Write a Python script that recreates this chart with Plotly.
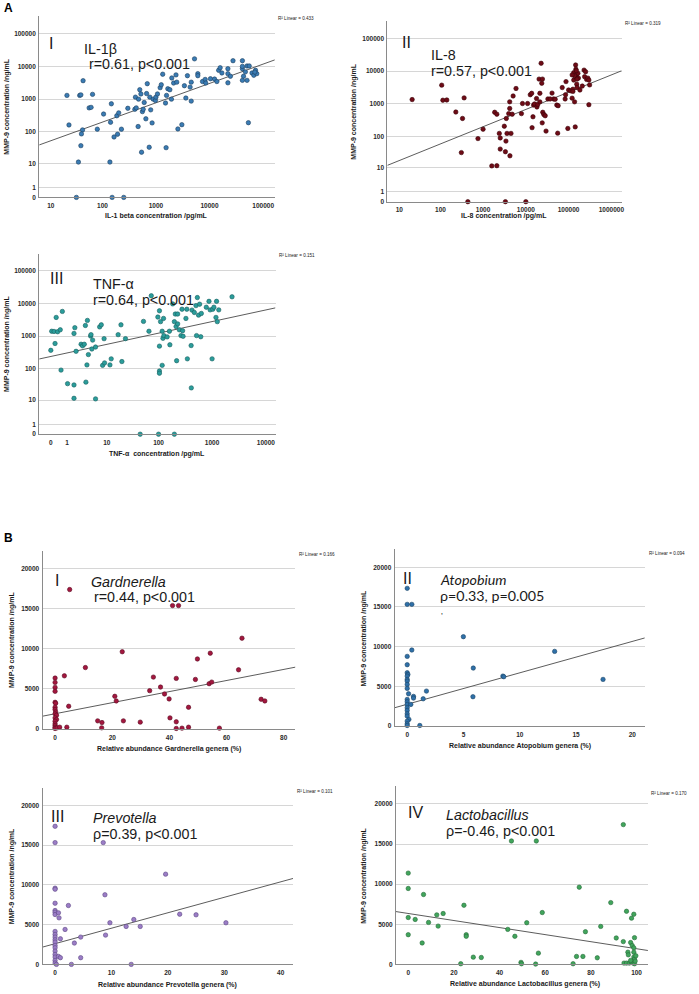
import plotly.graph_objects as go

W, H = 699, 994

# ---------------- Panel A data (raw values) ----------------
il1b_x = [21,23,43,37,39,65,56,61,42,40,39,35,80,105,147,142,165,192,186,202,227,299,138,32,152,251,405,430,466,415,500,525,475,560,580,605,540,650,670,690,770,800,750,850,890,980,1000,1070,1200,1260,1340,1510,1550,1580,1670,1820,1950,1980,2140,2370,2450,2570,3050,3400,3870,3620,4350,4560,4560,5250,6050,6050,7400,8300,8500,10400,12400,13700,14800,15800,17000,22000,22000,22000,24500,27400,41000,41000,41000,46600,50000,50000,53000,55000,62000,67000,72000,76000,70000,43000,41000]
il1b_mmp9 = [1300,162,3660,1300,1350,1400,540,560,114,86,37,11,120,350,720,196,69,84,310,380,120,525,11,0,0,0,490,540,145,1150,1940,1440,1000,415,490,790,23,250,1480,2960,1150,470,33,187,1000,910,1150,1440,2240,2750,5770,760,32,1300,2080,1940,1000,4430,3100,5500,3300,122,165,2570,5200,1080,2330,3300,870,17000,6000,5200,3450,4000,3100,4200,4100,3450,7600,9100,6300,3150,8500,6000,5000,14900,14900,8500,3750,6800,10300,3750,190,10300,6300,5350,7600,6000,6700,5000,10000]

il8_x = [21,107,114,141,230,330,360,310,760,1000,
         1870,2100,1600,2100,2400,2520,2520,3140,3330,3500,
         3430,3630,3980,4200,4200,4500,4250,4800,5050,5900,
         7900,8350,11000,12700,13700,14000,14700,15200,16000,17800,
         18200,19000,20400,21300,21300,22800,23600,24500,24900,24200,
         26300,28400,29700,32800,41000,44700,48600,53000,55600,57000,
         71000,83000,85000,87000,96000,100000,112000,121000,126000,126000,
         132000,132000,138000,143000,146000,148000,154000,155000,158000,165000,
         170000,184000,209000,230000,237000,250000,264000,282000,298000,310000,
         298000,138000,121000,440,3330,10000,152000,37000,158000]
il8_mmp9 = [1350,3730,1290,1310,560,355,1520,31,85,166,
            550,480,11.5,11.7,123,89,40,205,33,355,
            71,123,500,720,1150,123,24.5,480,1740,2950,
            500,1020,1020,1900,2100,185,400,915,990,1450,
            800,950,5730,2100,1150,17500,4270,5730,550,260,
            470,430,145,1410,2130,1410,1380,915,125,875,
            3150,1410,1900,4800,175,2650,2500,1490,2800,2400,
            5350,9000,1150,195,15500,11500,6800,4000,3150,8600,
            6150,2650,3500,10800,6800,9600,5600,6150,5350,3800,
            940,7300,7700,0,0,0,10400,1410,5730]

tnf_x = [0.04,0.15,0,0.2,0.26,0.34,0.5,0.64,0.55,1.7,
         1.8,1.95,2.66,2.9,3.2,3.4,3.8,3.7,4.0,4.5,
         4.6,4.8,5.0,5.8,7.1,7.7,8.2,9,8.8,11.6,
         12.3,16.9,19.2,20,23.5,52,66,73,97,104,
         109,104,104,104,117,117,121,126,124,145,
         160,163,184,198,206,213,218,228,228,245,
         263,275,282,288,338,325,346,407,410,422,
         467,501,531,513,560,585,615,630,780,875,
         920,1000,1030,1080,1180,1210,1250,1330,2350,
         45,100,198, 1.05,1.7,1.7,3.5,5.8]
tnf_mmp9 = [1400,1380,365,590,3700,1350,1550,5650,90,1200,
            1800,340,560,500,560,2100,3000,130,270,1000,
            1100,400,750,460,1900,2200,126,150,830,130,
            200,1100,2200,165,830,2800,1400,17000,3800,5900,
            2750,490,84,72,126,1400,850,1030,3450,940,
            1400,540,9600,2750,4700,1950,175,4700,2350,1550,
            1030,6600,1450,980,6600,3450,200,510,25,6200,
            5250,8500,15000,1030,4350,9400,950,4900,7600,11500,
            6300,200,6600,7600,3700,11500,2750,6300,15800,
            0,0,0, 34,31,11.5,38,11]

# ---------------- Panel B data (raw values) ----------------
gard_x = [5.1,41.1,43.2,23.5,10.6,65.4,49.8,54.3,0,0,
          0,0,3.25,4.76,0,0.2,0,0,0.2,0,
          0.5,0,0.5,0,0,0,0,0,0.7,1.6,
          4.1,20.9,21.4,14.9,16.4,16.3,23.9,29.8,33.1,34.4,
          36.9,38.3,39.9,40.2,42.4,42.4,42.4,44.4,46.7,46.7,
          49.1,53.9,54.8,57.5,64.2,72.1,73.4]
gard_mmp9 = [17350,15350,15350,9600,7630,11290,8700,9420,6320,5780,
             5160,4670,6600,2810,3300,3180,2680,2400,2100,1860,
             1690,1360,1160,950,620,410,200,40,120,200,
             200,4050,3470,990,780,120,990,830,4750,6440,
             5200,4340,3720,1360,6280,870,40,80,2680,200,
             6150,5620,5820,80,7350,3680,3470]

atop_x = [0,0,0.41,4.99,5.87,13.1,0.41,
          0,0,0,0.06,0,0,0,0,0,0.12,
          0,0,0,0.32,0,0,0,0,0.15,0,
          0,0,1.12,0.56,0.56,1.42,1.71,5.84,8.5,8.58,17.4]
atop_mmp9 = [17350,15330,15330,11260,7310,9410,9580,
             8780,7730,6720,6510,6300,5880,5670,5250,4750,4070,
             3360,3070,2730,2730,2310,1970,1550,1260,840,630,
             290,80,80,3740,3530,3440,4410,3700,6300,6220,5880]

prev_x = [0,0,8.54,19.6,0,0,8.84,
          0,0,0,0,0.6,2.36,0.7,0,0,0,
          0,0,0,0,0,0,0,0,0,0.24,
          0.6,0.94,0.94,1.77,3.42,4.54,4.54,2.89,8.95,9.72,
          12.6,13.96,15.1,13.5,22.1,25.0,30.3]
prev_mmp9 = [17360,15310,15310,11340,9580,9450,8750,
             7690,6770,6560,6270,6480,7400,5850,4140,3760,3430,
             3090,2800,2380,2090,1670,1250,920,500,170,0,
             1000,840,3220,4390,2680,3430,840,0,3680,5230,
             4770,5640,4770,0,6310,6230,5230]

lact_x = [94.2,45.2,56.1,0,0,6.7,74.9,
          88.7,0,3.05,8.9,12.5,15.3,13.1,0,6.1,24.4,
          25.4,25.4,28.5,32.0,23.0,43.6,46.7,49.4,49.6,51.9,
          55.8,57.0,58.7,72.2,73.7,76.5,77.6,82.8,84.3,91.1,
          94.2,95.6,97.8,98.8,99.1,97.4,98.1,98.8,96.2,96.4,
          98.8,98.8,99.1,94.5,95.6,96.8,97.7,98.5,99.1,99.4,
          97.4,99.7]
lact_mmp9 = [17420,15380,15380,11375,9460,8710,9620,
             7700,5840,5600,5230,6170,6340,4770,3700,2670,7370,
             3700,3500,900,860,80,4360,3500,250,80,5190,
             40,1400,6460,80,990,990,4070,820,4730,3290,
             2840,6620,5760,6250,3330,2720,2350,2060,1520,1190,
             1520,910,660,160,160,160,290,160,80,410,
             490,1070]

# linear fit lines (end points, raw units)
fit_il1b = ([5.7, 164800], [39, 15800])
fit_il8 = ([4.8, 1740000], [12, 10300])
fit_tnf = ([-0.39, 15100], [198, 7260])
fit_gard = ([-4.4, 84.1], [1570, 7680])
fit_atop = ([-1.12, 21.1], [2310, 11100])
fit_prev = ([-2.23, 42.2], [2170, 10800])
fit_lact = ([-5.36, 105], [6580, 1730])

# tick labels
log_y_ticks = [0, 1, 10, 100, 1000, 10000, 100000]
il1b_ticks = [10, 100, 1000, 10000, 100000]
il8_ticks = [10, 100, 1000, 10000, 100000, 1000000]
tnf_ticks = [0, 1, 10, 100, 1000, 10000]
lin_y_ticks = [0, 5000, 10000, 15000, 20000]
gard_ticks = [0, 20, 40, 60, 80]
atop_ticks = [0, 5, 10, 15, 20]
prev_ticks = [0, 10, 20, 30, 40]
lact_ticks = [0, 20, 40, 60, 80, 100]

FONT = "Liberation Sans"
TICKFONT = dict(family=FONT, size=6.5, color="#2a2a2a", weight="bold")
AXCOL = "#8a8a8a"
GRIDCOL = "#d6d6d6"


def fx(p):
    return p / W


def fy(p):
    return 1 - p / H


panels = [
    dict(x=il1b_x, y=il1b_mmp9, fit=fit_il1b, log=True, col="#3a7bb3", edge="#1c3f60",
         box=(39.3, 276, 16, 198), xr=[0.824, 5.217], yr=[0, 5.54],
         xt=il1b_ticks, yt=log_y_ticks),
    dict(x=il8_x, y=il8_mmp9, fit=fit_il8, log=True, col="#6e0b16", edge="#3a0409",
         box=(389, 624.3, 20.7, 202.3), xr=[0.762, 6.24], yr=[0, 5.55],
         xt=il8_ticks, yt=log_y_ticks),
    dict(x=tnf_x, y=tnf_mmp9, fit=fit_tnf, log=True, col="#2b9d9b", edge="#17605f",
         box=(39.3, 276.7, 255, 435.5), xr=[-0.217, 4.18], yr=[0, 5.50],
         xt=tnf_ticks, yt=log_y_ticks),
    dict(x=gard_x, y=gard_mmp9, fit=fit_gard, log=False, col="#a3173f", edge="#5a0c22",
         box=(42.7, 296.7, 553, 731), xr=[-4.4, 84.1], yr=[0, 22110],
         xt=gard_ticks, yt=lin_y_ticks),
    dict(x=atop_x, y=atop_mmp9, fit=fit_atop, log=False, col="#2f70a8", edge="#1b4466",
         box=(396.3, 647.7, 551, 728.3), xr=[-1.12, 21.12], yr=[0, 22260],
         xt=atop_ticks, yt=lin_y_ticks),
    dict(x=prev_x, y=prev_mmp9, fit=fit_prev, log=False, col="#9b7dc6", edge="#5e4884",
         box=(42.7, 294.3, 790, 967.3), xr=[-2.23, 42.2], yr=[0, 22220],
         xt=prev_ticks, yt=lin_y_ticks),
    dict(x=lact_x, y=lact_mmp9, fit=fit_lact, log=False, col="#41a55c", edge="#276a39",
         box=(397.7, 650.7, 788.3, 967.3), xr=[-5.36, 104.97], yr=[0, 22240],
         xt=lact_ticks, yt=lin_y_ticks),
]

fig = go.Figure()
layout = dict(width=W, height=H, margin=dict(l=0, r=0, t=0, b=0),
              paper_bgcolor="white", plot_bgcolor="white", showlegend=False)

for i, p in enumerate(panels):
    n = "" if i == 0 else str(i + 1)
    xa, ya = "x" + n, "y" + n
    off = 1 if p["log"] else 0
    xs = [v + off for v in p["x"]]
    ys = [v + off for v in p["y"]]
    fxs = [v + off for v in p["fit"][0]]
    fys = [v + off for v in p["fit"][1]]
    fig.add_trace(go.Scatter(x=fxs, y=fys, mode="lines", xaxis=xa, yaxis=ya,
                             line=dict(color="#4a4a4a", width=0.9), hoverinfo="skip"))
    fig.add_trace(go.Scatter(x=xs, y=ys, mode="markers", xaxis=xa, yaxis=ya, cliponaxis=False,
                             marker=dict(size=4.4, color=p["col"], line=dict(color=p["edge"], width=0.6))))
    l, r, t, b = p["box"]
    typ = "log" if p["log"] else "linear"
    layout["xaxis" + n] = dict(domain=[fx(l), fx(r)], range=p["xr"], type=typ, anchor=ya,
                               showgrid=False, zeroline=False, showline=True, linecolor=AXCOL,
                               linewidth=1, ticks="", tickvals=[v + off for v in p["xt"]],
                               ticktext=[str(v) for v in p["xt"]], tickfont=TICKFONT,
                               ticklabelstandoff=2)
    layout["yaxis" + n] = dict(domain=[fy(b), fy(t)], range=p["yr"], type=typ, anchor=xa,
                               showgrid=True, gridcolor=GRIDCOL, gridwidth=1, zeroline=False,
                               showline=True, linecolor=AXCOL, linewidth=1, ticks="",
                               tickvals=[v + off for v in p["yt"]],
                               ticktext=[str(v) for v in p["yt"]], tickfont=TICKFONT,
                               ticklabelstandoff=1)

ann = []


def txt(x, y, s, size, anchor="left", italic=False, bold=False, family=FONT, angle=0, color="#1a1a1a"):
    ann.append(dict(x=fx(x), y=fy(y), xref="paper", yref="paper", text=s, showarrow=False,
                    xanchor=anchor, yanchor="middle", textangle=angle,
                    font=dict(family=family, size=size, color=color,
                              style="italic" if italic else "normal",
                              weight="bold" if bold else "normal")))


# panel letters
txt(2, 8, "A", 12, bold=True, color="#000")
txt(2, 540, "B", 12, bold=True, color="#000")

ytitle = "MMP-9 concentration /ng/mL"
# axis titles
txt(157, 216.5, "IL-1 beta concentration /pg/mL", 7, anchor="center", bold=True)
txt(506, 217, "IL-8 concentration /pg/mL", 7, anchor="center", bold=True)
txt(158, 455, "TNF-\u03b1  concentration /pg/mL", 7, anchor="center", bold=True)
txt(170, 751.7, "Relative abundance Gardnerella genera (%)", 7, anchor="center", bold=True)
txt(522, 748.3, "Relative abundance Atopobium genera (%)", 7, anchor="center", bold=True)
txt(168, 988.3, "Relative abundance Prevotella genera (%)", 7, anchor="center", bold=True)
txt(527, 987.3, "Relative abundance Lactobacillus genera (%)", 7, anchor="center", bold=True)
for (xx, yy) in [(7, 107), (356, 111.5), (7, 345), (12, 642), (366, 640), (12, 879), (366, 878)]:
    txt(xx, yy, ytitle, 7, anchor="center", bold=True, angle=-90)

# R² labels
for (xx, yy, s) in [(277, 19, "0.433"), (626, 24, "0.319"), (278, 256.7, "0.151"),
                    (298, 555.7, "0.166"), (650, 555, "0.094"), (296, 794, "0.101"),
                    (651.7, 796, "0.170")]:
    txt(xx, yy, "R\u00b2 Linear = " + s, 4.6)

# panel texts
BIG = 14.3
txt(47, 44, "I", 16)
txt(82, 49.5, "IL-1\u03b2", BIG)
txt(87, 64, "r=0.61, p<0.001", BIG)
txt(402, 43, "II", 16)
txt(431, 55.5, "IL-8", BIG)
txt(431, 71, "r=0.57, p<0.001", BIG)
txt(48, 279.3, "III", 16)
txt(91, 285.3, "TNF-\u03b1", BIG)
txt(91, 300.5, "r=0.64, p<0.001", BIG)

txt(53, 582.5, "I", 16)
txt(89, 583.5, "Gardnerella", BIG, italic=True)
txt(92, 599, "r=0.44, p<0.001", BIG)
txt(403, 580.3, "II", 16)
txt(440, 581, "Atopobium", BIG, italic=True, family="Lato")
txt(440, 597, "\u03c1=0.33, p=0.005", BIG, family="Lato")
txt(441, 613, ",", 8, family="Lato")
txt(49, 819, "III", 16)
txt(91, 820.5, "Prevotella", BIG, italic=True)
txt(91, 836.5, "\u03c1=0.39, p<0.001", BIG)
txt(408, 815, "IV", 16)
txt(446, 817.5, "Lactobacillus", BIG, italic=True)
txt(446, 834, "\u03c1=-0.46, p<0.001", BIG)

layout["annotations"] = ann
fig.update_layout(**layout)

fig.write_html("out.html", config={"displayModeBar": False},
               post_script="document.body.style.margin='0';document.body.style.overflow='hidden';")
